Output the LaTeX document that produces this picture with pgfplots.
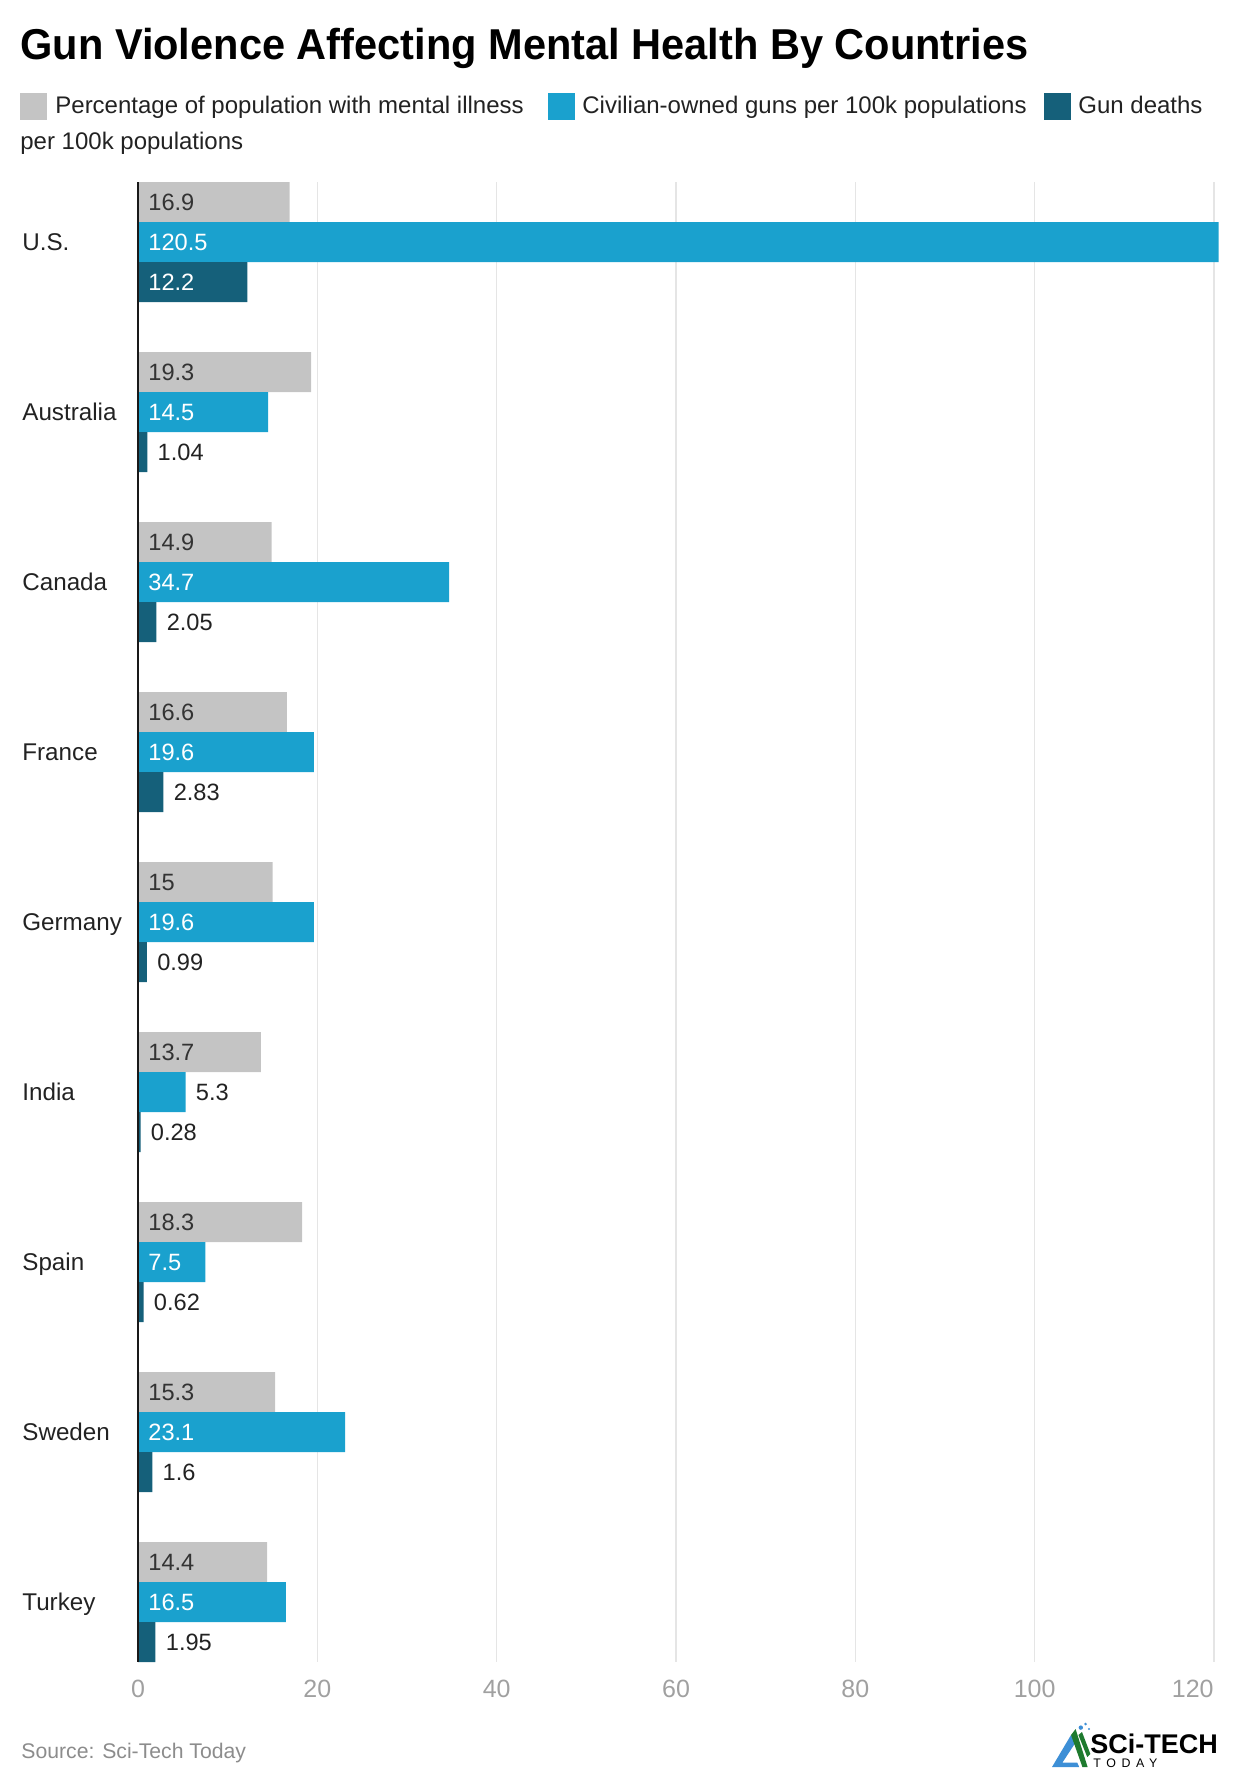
\documentclass[border=0pt]{standalone}
\usepackage{fontspec}
\setmainfont{Liberation Sans}
\newfontfamily\titlefont[FakeStretch=0.962]{Liberation Sans}
\usepackage{pgfplots}
\pgfplotsset{compat=1.18}

\definecolor{mgray}{HTML}{C4C4C4}
\definecolor{gblue}{HTML}{1AA1CE}
\definecolor{gdark}{HTML}{15607A}
\definecolor{gridc}{HTML}{E5E5E5}
\definecolor{tickc}{HTML}{A0A0A0}
\definecolor{txt}{HTML}{222222}
\definecolor{lab}{HTML}{333333}
\definecolor{srcc}{HTML}{8C8C8C}
\definecolor{logob}{HTML}{3D8FD6}
\definecolor{logog}{HTML}{1E7A2E}

% 1 px of the reference = 0.5pt
\begin{document}
\begin{tikzpicture}
\path[use as bounding box] (0,0) rectangle (620pt,-893pt);

% title
\node[anchor=base west, inner sep=0, font=\titlefont\bfseries\fontsize{21.6}{26}\selectfont, text=black]
  at (10pt,-30pt) {Gun Violence Affecting Mental Health By Countries};

% legend
\fill[mgray] (10pt,-46.5pt) rectangle ++(13.5pt,-13.5pt);
\node[anchor=base west, inner sep=0, font=\fontsize{12}{14}\selectfont, text=txt]
  at (27.5pt,-57pt) {Percentage of population with mental illness};
\fill[gblue] (274pt,-46.5pt) rectangle ++(13.5pt,-13.5pt);
\node[anchor=base west, inner sep=0, font=\fontsize{12}{14}\selectfont, text=txt]
  at (291pt,-57pt) {Civilian-owned guns per 100k populations};
\fill[gdark] (522pt,-46.5pt) rectangle ++(13.5pt,-13.5pt);
\node[anchor=base west, inner sep=0, font=\fontsize{12}{14}\selectfont, text=txt]
  at (539pt,-57pt) {Gun deaths};
\node[anchor=base west, inner sep=0, font=\fontsize{12}{14}\selectfont, text=txt]
  at (10pt,-75pt) {per 100k populations};

\begin{axis}[
  at={(69pt,-831pt)}, anchor=south west,
  width=540.25pt, height=740pt, scale only axis,
  xmin=0, xmax=120.5,
  ymin=-0.3529, ymax=8.3529, y dir=reverse,
  axis line style={draw=none},
  tick style={draw=none},
  xtick={0,20,...,100},
  extra x ticks={120},
  extra x tick style={xticklabel style={anchor=base east}},
  xmajorgrids, grid style={gridc, line width=0.8pt},
  ytick={0,...,8},
  yticklabels={U.S.,Australia,Canada,France,Germany,India,Spain,Sweden,Turkey},
  /pgf/number format/assume math mode=true,
  xticklabel style={anchor=base, inner sep=0, yshift=-17.5pt,
    font=\fontsize{12.5}{15}\selectfont, text=tickc},
  yticklabel style={anchor=base west, inner sep=0, xshift=-58pt, yshift=-4.3pt,
    font=\fontsize{12.1}{14}\selectfont, text=txt},
  clip=false,
  nodes near coords style={anchor=west, inner sep=0, xshift=5pt,
    font=\fontsize{11.8}{14}\selectfont},
]
% bars
\addplot[xbar, bar width=0.2353, bar shift=-0.2353, fill=mgray, draw=none]
  coordinates {(16.9,0) (19.3,1) (14.9,2) (16.6,3) (15,4) (13.7,5) (18.3,6) (15.3,7) (14.4,8)};
\addplot[xbar, bar width=0.2353, bar shift=0, fill=gblue, draw=none]
  coordinates {(120.5,0) (14.5,1) (34.7,2) (19.6,3) (19.6,4) (5.3,5) (7.5,6) (23.1,7) (16.5,8)};
\addplot[xbar, bar width=0.2353, bar shift=0.2353, fill=gdark, draw=none]
  coordinates {(12.2,0) (1.04,1) (2.05,2) (2.83,3) (0.99,4) (0.28,5) (0.62,6) (1.6,7) (1.95,8)};

% value labels inside the bars
\addplot[draw=none, mark=none, point meta=explicit symbolic, nodes near coords,
  nodes near coords style={yshift=20pt, text=lab}]
  coordinates {(0,0)[16.9] (0,1)[19.3] (0,2)[14.9] (0,3)[16.6] (0,4)[15] (0,5)[13.7] (0,6)[18.3] (0,7)[15.3] (0,8)[14.4]};
\addplot[draw=none, mark=none, point meta=explicit symbolic, nodes near coords,
  nodes near coords style={text=white}]
  coordinates {(0,0)[120.5] (0,1)[14.5] (0,2)[34.7] (0,3)[19.6] (0,4)[19.6] (0,6)[7.5] (0,7)[23.1] (0,8)[16.5]};
\addplot[draw=none, mark=none, point meta=explicit symbolic, nodes near coords,
  nodes near coords style={yshift=-20pt, text=white}]
  coordinates {(0,0)[12.2]};
% value labels after the bars
\addplot[draw=none, mark=none, point meta=explicit symbolic, nodes near coords,
  nodes near coords style={text=txt}]
  coordinates {(5.3,5)[5.3]};
\addplot[draw=none, mark=none, point meta=explicit symbolic, nodes near coords,
  nodes near coords style={yshift=-20pt, text=txt}]
  coordinates {(1.04,1)[1.04] (2.05,2)[2.05] (2.83,3)[2.83] (0.99,4)[0.99] (0.28,5)[0.28] (0.62,6)[0.62] (1.6,7)[1.6] (1.95,8)[1.95]};

\draw[black!90, line width=1pt] (axis cs:0,-0.3529) -- (axis cs:0,8.3529);
\end{axis}

% source
\node[anchor=base west, inner sep=0, font=\fontsize{10.6}{13}\selectfont, text=srcc]
  at (10.5pt,-879pt) {Source: Sci-Tech Today};

% logo
\fill[logob] (526pt,-883.5pt) -- (535.5pt,-867.5pt) -- (537.8pt,-871.2pt) -- (531.2pt,-881.3pt) -- (538.6pt,-881.3pt) -- (539.6pt,-883.5pt) -- cycle;
\fill[logog] (535.5pt,-867.5pt) -- (537.8pt,-864.5pt) -- (543.8pt,-883.5pt) -- (541.2pt,-883.5pt) -- cycle;
\fill[logog] (539.2pt,-867.5pt) -- (541pt,-866pt) -- (545.2pt,-877pt) -- (543.6pt,-878.5pt) -- cycle;
\fill[logob] (540.4pt,-863.8pt) circle (1.1pt);
\fill[logob] (542.8pt,-862pt) circle (0.7pt);
\fill[logob] (544.5pt,-864.5pt) circle (0.6pt);
\node[anchor=base west, inner sep=0, font=\bfseries\fontsize{13.5}{15}\selectfont, text=black]
  at (545pt,-876.5pt) {SCi-TECH};
\node[anchor=base west, inner sep=0, font=\fontsize{6.2}{7}\selectfont\addfontfeatures{LetterSpace=45}, text=black]
  at (546.5pt,-883.5pt) {TODAY};
\end{tikzpicture}
\end{document}
